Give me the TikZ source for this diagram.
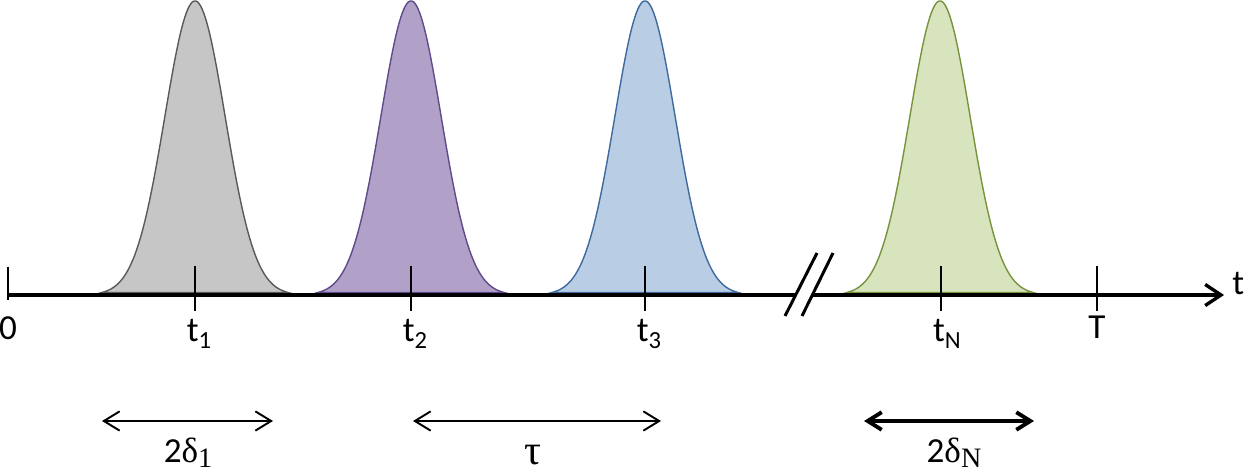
\documentclass[tikz,border=0pt]{standalone}
\usepackage{fontspec}
\setmainfont{Carlito}
\newfontfamily\seriff{Liberation Serif}
\usetikzlibrary{arrows.meta}
\definecolor{grayfill}{HTML}{C6C6C6}
\definecolor{graydraw}{HTML}{5A5A5A}
\definecolor{purfill}{HTML}{B1A0C7}
\definecolor{purdraw}{HTML}{5F4B8B}
\definecolor{bluefill}{HTML}{B9CDE5}
\definecolor{bluedraw}{HTML}{3E6A9E}
\definecolor{grnfill}{HTML}{D7E4BD}
\definecolor{grndraw}{HTML}{77933C}
\newcommand\mysub[2]{\raisebox{-#1}{#2}}
\begin{document}
\begin{tikzpicture}[x=0.02cm,y=-0.02cm,
  axisline/.style={line width=1.9pt,black},
  tickline/.style={line width=0.85pt,black},
  pulse/.style={line width=0.8pt},
  lab/.style={anchor=base,inner sep=0pt,font=\fontsize{20}{24}\selectfont},
  dimthin/.style={line width=1.1pt,{Straight Barb[length=9pt,width=11pt]}-{Straight Barb[length=9pt,width=11pt]}},
  dimthick/.style={line width=2.2pt,{Straight Barb[length=8pt,width=10pt]}-{Straight Barb[length=8pt,width=10pt]}},
  brk/.style={line width=1.7pt}]
\useasboundingbox (0,0) rectangle (1248,476);
% pulses
\filldraw[pulse,fill=grayfill,draw=graydraw] plot[domain=-93:93,samples=120] ({195+\x},{295-294*exp(-(\x*\x)/1820)}) -- cycle;
\filldraw[pulse,fill=purfill,draw=purdraw] plot[domain=-93:93,samples=120] ({411+\x},{295-294*exp(-(\x*\x)/1820)}) -- cycle;
\filldraw[pulse,fill=bluefill,draw=bluedraw] plot[domain=-93:93,samples=120] ({645+\x},{295-294*exp(-(\x*\x)/1820)}) -- cycle;
\filldraw[pulse,fill=grnfill,draw=grndraw] plot[domain=-93:93,samples=120] ({940+\x},{295-294*exp(-(\x*\x)/1820)}) -- cycle;
% axis
\coordinate (o) at (8,295);
\coordinate (brkL) at (796,295);
\coordinate (brkR) at (813,295);
\coordinate (tip) at (1224,295);
\draw[axisline] (o) -- (brkL);
\draw[axisline,-{Straight Barb[length=9pt,width=12pt]}] (brkR) -- (tip);
\node[lab,anchor=base west] (tlab) at (1232,295) {t};
% break marks
\coordinate (b1a) at (785,316); \coordinate (b1b) at (817,253);
\coordinate (b2a) at (802,316); \coordinate (b2b) at (833,253);
\draw[brk] (b1a) -- (b1b);
\draw[brk] (b2a) -- (b2b);
% ticks
\draw[tickline] (8,267) -- (8,300);
\draw[tickline] (195,266) -- (195,311);
\draw[tickline] (411,266) -- (411,311);
\draw[tickline] (645,266) -- (645,311);
\draw[tickline] (941,266) -- (941,311);
\draw[tickline] (1097,266) -- (1097,311);
% tick labels
\node[lab] (l0) at (8,339) {0};
\node[lab] (l1) at (199,341) {t\mysub{4.5pt}{\fontsize{14}{14}\selectfont 1}};
\node[lab] (l2) at (415,341) {t\mysub{4.5pt}{\fontsize{14}{14}\selectfont 2}};
\node[lab] (l3) at (649,341) {t\mysub{4.5pt}{\fontsize{14}{14}\selectfont 3}};
\node[lab] (lN) at (947,341) {t\mysub{4.5pt}{\fontsize{14}{14}\selectfont N}};
\node[lab] (lT) at (1097,338) {T};
% dimension arrows
\coordinate (d1a) at (102,421); \coordinate (d1b) at (273,421);
\coordinate (d2a) at (413,421); \coordinate (d2b) at (661,421);
\coordinate (d3a) at (864,421); \coordinate (d3b) at (1034,421);
\draw[dimthin] (d1a) -- (d1b);
\draw[dimthin] (d2a) -- (d2b);
\draw[dimthick] (d3a) -- (d3b);
\node[lab] (w1) at (188,462) {2{\seriff δ}\mysub{3pt}{\seriff\fontsize{16}{16}\selectfont 1}};
\node[lab] (w2) at (533,464) {\seriff\fontsize{24}{24}\selectfont τ};
\node[lab] (w3) at (954,462) {2{\seriff δ}\mysub{3pt}{\seriff\fontsize{16}{16}\selectfont N}};
\end{tikzpicture}
\end{document}
